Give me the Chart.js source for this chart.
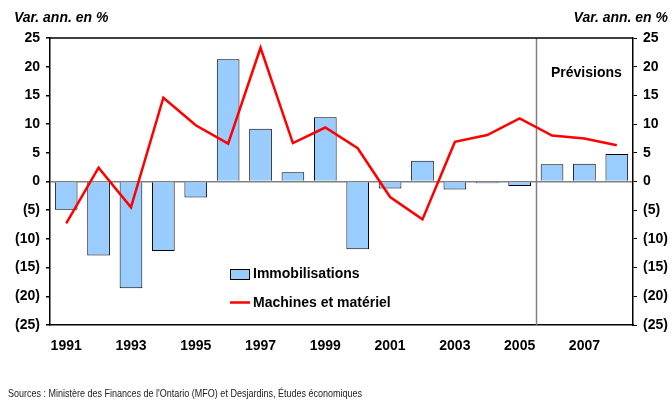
<!DOCTYPE html>
<html>
<head>
<meta charset="utf-8">
<script src="https://cdn.jsdelivr.net/npm/chart.js@4.4.0/dist/chart.umd.min.js"></script>
<style>
  html, body { margin: 0; padding: 0; background: #fff; }
  #wrap { width: 672px; height: 404px; position: relative; }
</style>
</head>
<body>
<div id="wrap"><canvas id="myChart" width="672" height="404"></canvas></div>
<script>
// years on the x axis
let years = [
    "1991", "1992", "1993", "1994", "1995", "1996", "1997", "1998", "1999",
    "2000", "2001", "2002", "2003", "2004", "2005", "2006", "2007", "2008"
];
// annual change in %
let immobilisations = [-4.9, -12.9, -18.6, -12.1, -2.8, 21.3, 9.2, 1.6, 11.2, -11.8, -1.2, 3.6, -1.4, -0.3, -0.8, 3.0, 3.1, 4.8];
let machines = [-7.3, 2.4, -4.5, 14.6, 9.8, 6.6, 23.3, 6.7, 9.4, 5.8, -2.7, -6.6, 6.9, 8.1, 11.0, 8.0, 7.5, 6.3];
let yTicks = [25, 20, 15, 10, 5, 0, -5, -10, -15, -20, -25];
let firstForecast = "2006";

let axisTitle = "Var. ann. en %";
let forecastLabel = "Prévisions";
let sourceText = "Sources : Ministère des Finances de l'Ontario (MFO) et Desjardins, Études économiques";

const FONT = "'Liberation Sans', Arial, sans-serif";

function fmtTick(v) {
    return v < 0 ? "(" + Math.abs(v) + ")" : String(v);
}

// draws the titles, legend, forecast split, top frame and source line
const extras = {
    id: 'extras',
    beforeDatasetsDraw(chart) {
        const {ctx, chartArea, scales} = chart;
        const i = years.indexOf(firstForecast);
        const x = (scales.x.getPixelForValue(i - 1) + scales.x.getPixelForValue(i)) / 2;
        ctx.save();
        ctx.strokeStyle = '#808080';
        ctx.lineWidth = 1.5;
        ctx.beginPath();
        ctx.moveTo(Math.round(x) + 0.5, chartArea.top);
        ctx.lineTo(Math.round(x) + 0.5, chartArea.bottom);
        ctx.stroke();
        ctx.restore();
    },
    afterDraw(chart) {
        const {ctx, chartArea} = chart;
        ctx.save();
        // top frame
        ctx.strokeStyle = '#000';
        ctx.lineWidth = 1.5;
        ctx.beginPath();
        ctx.moveTo(chartArea.left, chartArea.top);
        ctx.lineTo(chartArea.right, chartArea.top);
        ctx.stroke();

        ctx.fillStyle = '#000';
        ctx.textBaseline = 'middle';
        ctx.font = "italic bold 14px " + FONT;
        ctx.textAlign = 'left';
        ctx.fillText(axisTitle, 14, 18);
        ctx.textAlign = 'right';
        ctx.fillText(axisTitle, 668, 18);

        ctx.font = "bold 14px " + FONT;
        ctx.textAlign = 'left';
        ctx.fillText(forecastLabel, 551, 73);

        // legend
        const ds = chart.data.datasets;
        const bar = ds.find(d => d.type === 'bar');
        const line = ds.find(d => d.type === 'line');
        ctx.fillStyle = bar.backgroundColor;
        ctx.fillRect(230, 269, 19, 10);
        ctx.strokeStyle = bar.borderColor;
        ctx.lineWidth = 1;
        ctx.strokeRect(230.5, 269.5, 19, 10);
        ctx.strokeStyle = line.borderColor;
        ctx.lineWidth = 2.5;
        ctx.beginPath();
        ctx.moveTo(230, 302.5);
        ctx.lineTo(250, 302.5);
        ctx.stroke();
        ctx.fillStyle = '#000';
        ctx.fillText(bar.label, 253, 274);
        ctx.fillText(line.label, 253, 303);

        // source
        ctx.font = "11.5px " + FONT;
        ctx.fillStyle = '#222';
        ctx.fillText(sourceText, 8, 394, 354);
        ctx.restore();
    }
};

var ctx = document.getElementById('myChart').getContext('2d');
var chart = new Chart(ctx, {
    type: 'bar',
    data: {
        labels: years,
        datasets: [{
            type: 'line',
            label: 'Machines et matériel',
            data: machines,
            borderColor: '#ff0000',
            backgroundColor: '#ff0000',
            borderWidth: 2.5,
            pointRadius: 0,
            tension: 0,
            order: 0
        }, {
            type: 'bar',
            label: 'Immobilisations',
            data: immobilisations,
            backgroundColor: '#99ccff',
            borderColor: '#000000',
            borderWidth: 1,
            categoryPercentage: 1,
            barPercentage: 0.7,
            order: 1
        }]
    },
    options: {
        responsive: false,
        animation: false,
        layout: { padding: { top: 38, bottom: 39, left: 0, right: 0 } },
        plugins: { legend: { display: false }, tooltip: { enabled: false } },
        scales: {
            x: {
                grid: { display: false, drawTicks: false },
                border: { display: true, color: '#000', width: 1.5 },
                ticks: {
                    autoSkip: false, maxRotation: 0, padding: 13,
                    color: '#000', font: { family: FONT, size: 14, weight: 'bold' },
                    callback: (v, i) => i % 2 === 0 ? years[i] : ''
                },
                afterFit: (s) => { s.height = 40; }
            },
            y: {
                position: 'left', min: -25, max: 25,
                afterBuildTicks: (s) => { s.ticks = yTicks.map(v => ({value: v})); },
                grid: {
                    color: (c) => c.tick && c.tick.value === 0 ? '#808080' : 'rgba(0,0,0,0)',
                    lineWidth: 1.5, tickColor: '#000', tickLength: 4
                },
                border: { display: true, color: '#000', width: 1.5 },
                ticks: { padding: 6, color: '#000', font: { family: FONT, size: 14, weight: 'bold' }, callback: fmtTick },
                afterFit: (s) => { s.width = 50; }
            },
            y2: {
                position: 'right', min: -25, max: 25,
                afterBuildTicks: (s) => { s.ticks = yTicks.map(v => ({value: v})); },
                grid: { drawOnChartArea: false, tickColor: '#000', tickLength: 4 },
                border: { display: true, color: '#000', width: 1.5 },
                ticks: { padding: 6, color: '#000', font: { family: FONT, size: 14, weight: 'bold' }, callback: fmtTick },
                afterFit: (s) => { s.width = 39; }
            }
        }
    },
    plugins: [extras]
});
</script>
</body>
</html>
